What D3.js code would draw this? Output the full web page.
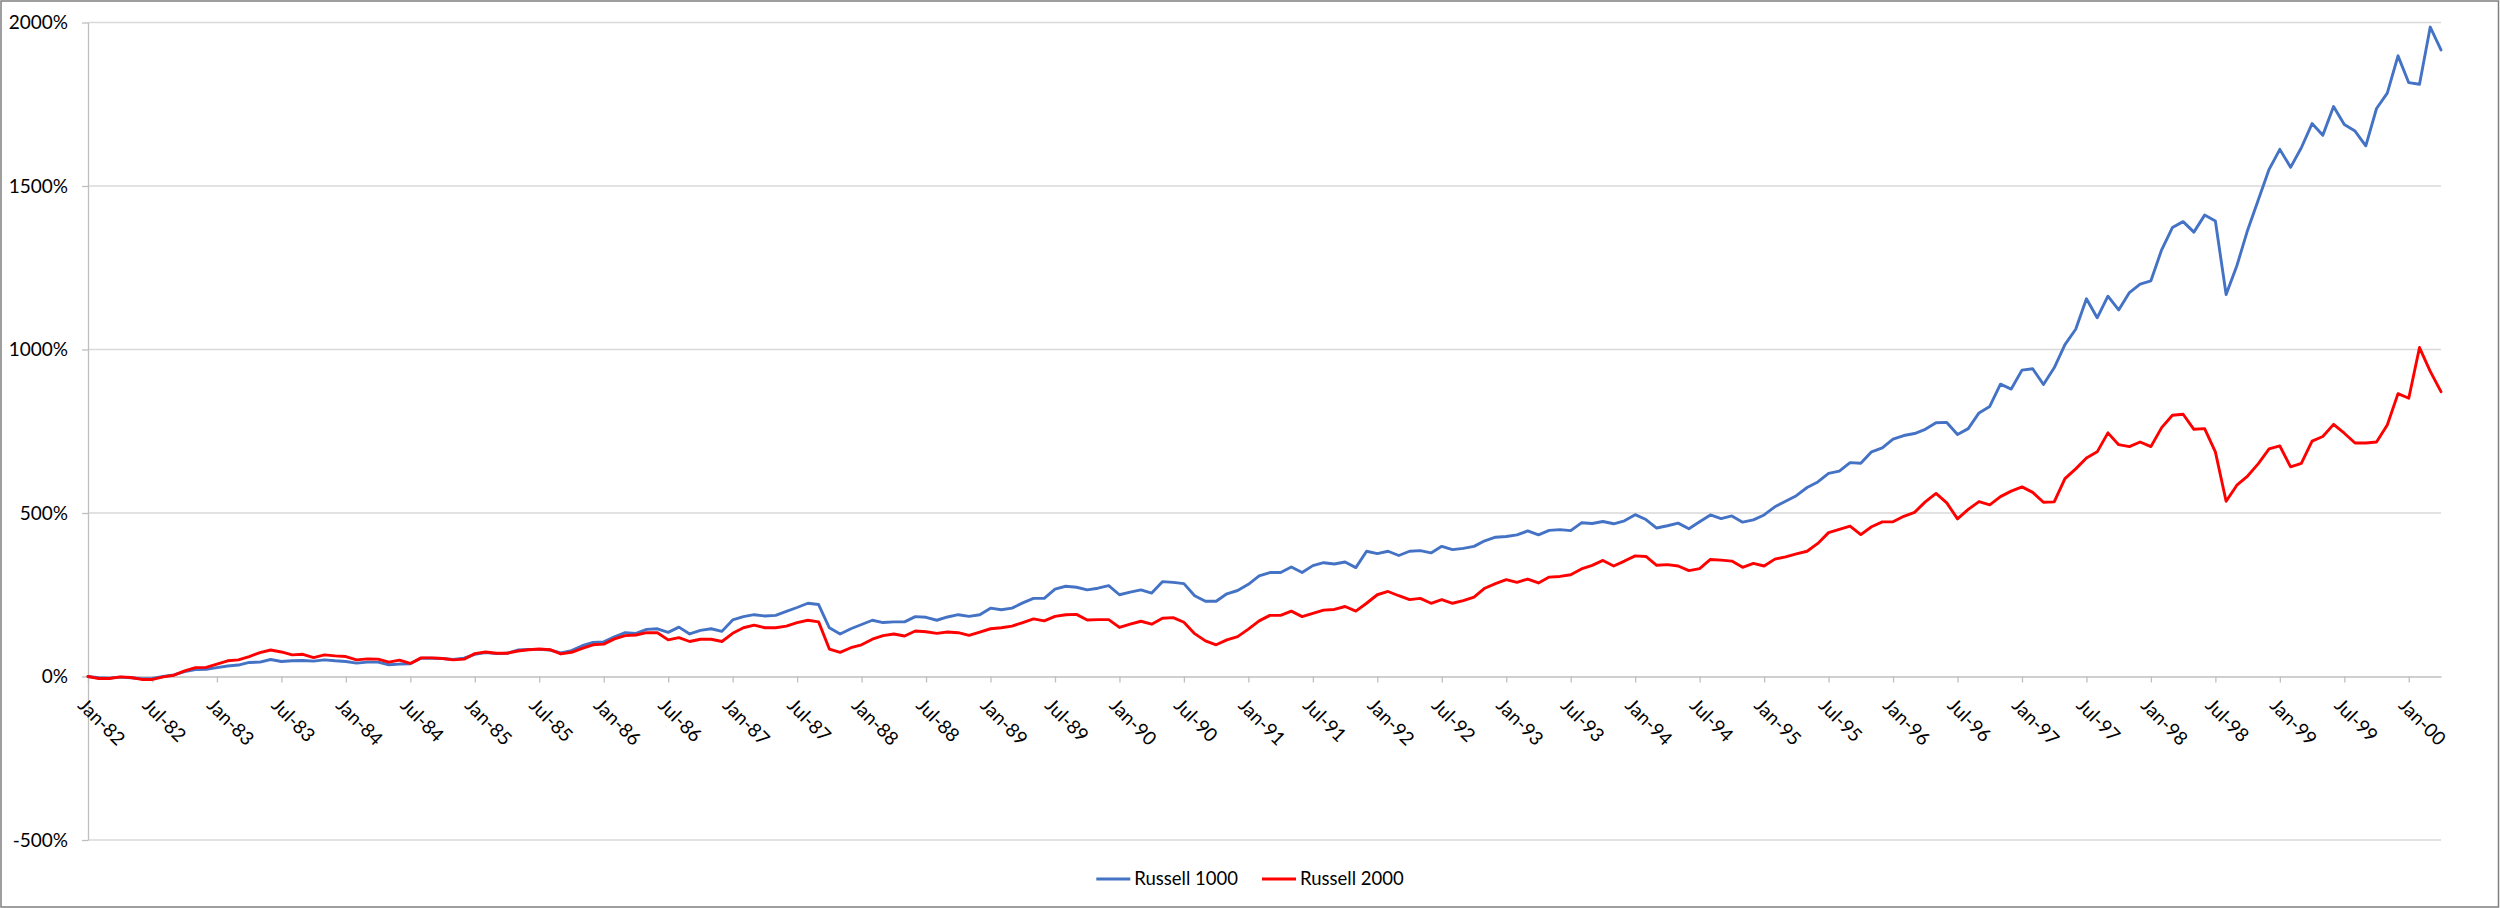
<!DOCTYPE html>
<html><head><meta charset="utf-8">
<script src="https://cdn.jsdelivr.net/npm/d3@7"></script>
<style>
body{margin:0;background:#fff;}
svg{display:block;font-family:Lato,"Open Sans",sans-serif;}
</style>
</head><body>
<svg id="chart" width="2500" height="908"></svg>
<script>
// ---- DATA ----
const firstMonth = new Date(1982, 0, 1);
const lastMonth = new Date(2000, 3, 1);
const months = d3.timeMonth.range(firstMonth, d3.timeMonth.offset(lastMonth, 1)); // categories Jan-82 .. Apr-00

const russell1000 = [
  0, -4, -5, -2, -4, -7, -6, 0, 5, 15, 21, 22,
  27, 32, 35, 43, 44, 52, 46, 48, 49, 47, 51, 48,
  46, 41, 44, 44, 36, 38, 39, 56, 56, 55, 52, 56,
  68, 73, 70, 71, 81, 83, 83, 81, 72, 79, 94, 104,
  106, 121, 134, 132, 144, 146, 135, 151, 130, 141, 146, 138,
  173, 183, 189, 185, 187, 199, 211, 224, 220, 149, 130, 146,
  159, 172, 165, 167, 167, 183, 181, 172, 182, 189, 184, 189,
  209, 204, 209, 225, 239, 239, 267, 276, 273, 265, 270, 278,
  250, 258, 265, 255, 290, 288, 284, 247, 230, 230, 253, 263,
  282, 308, 318, 318, 335, 318, 339, 348, 344, 350, 333, 383,
  376, 383, 370, 383, 385, 378, 398, 388, 392, 398, 415, 426,
  428, 433, 445, 433, 447, 449, 446, 470, 468, 474, 467, 476,
  495, 480, 454, 461, 469, 452, 473, 494, 483, 491, 472, 479,
  494, 519, 536, 553, 578, 595, 621, 628, 654, 652, 687, 699,
  726, 737, 743, 756, 776, 777, 740, 758, 806, 826, 894, 879,
  937, 941, 893, 944, 1015, 1062, 1155, 1097, 1163, 1121, 1174, 1200,
  1210, 1305, 1373, 1391, 1359, 1411, 1393, 1168, 1256, 1365, 1458, 1551,
  1612, 1557, 1617, 1691, 1655, 1743, 1688, 1668, 1623, 1737, 1784, 1898,
  1816, 1811, 1986, 1916
];

const russell2000 = [
  0, -6, -6, -1, -3, -9, -9, -1, 4, 17, 27, 28,
  38, 48, 51, 61, 73, 81, 75, 66, 68, 58, 66, 63,
  61, 51, 54, 53, 44, 50, 40, 57, 57, 55, 51, 53,
  70, 75, 71, 71, 78, 82, 84, 82, 69, 74, 86, 97,
  99, 115, 125, 127, 134, 134, 112, 119, 107, 114, 114, 107,
  132, 149, 157, 149, 149, 154, 165, 172, 167, 84, 74, 88,
  97, 114, 125, 130, 124, 139, 137, 132, 136, 134, 126, 136,
  146, 149, 154, 165, 176, 170, 184, 189, 190, 173, 174, 174,
  150, 160, 169, 160, 178, 180, 166, 131, 109, 97, 112, 122,
  145, 170, 187, 187, 200, 183, 193, 203, 205, 214, 200, 224,
  250, 260, 247, 235, 239, 224, 235, 224, 232, 243, 270, 284,
  296, 288, 298, 286, 304, 306, 311, 329, 340, 355, 338, 353,
  369, 367, 340, 342, 338, 324, 330, 358, 356, 353, 334, 346,
  338, 359, 366, 375, 383, 407, 440, 450, 460, 434, 458, 473,
  473, 490, 502, 534, 560, 531, 482, 511, 535, 525, 550, 567,
  580, 563, 533, 534, 605, 635, 668, 687, 745, 709, 703, 717,
  703, 761, 799, 802, 756, 758, 687, 536, 585, 613, 651, 696,
  705, 641, 652, 720, 734, 771, 744, 714, 714, 717, 769, 865,
  851, 1006, 933, 871
];

const seriesNames = ["Russell 1000", "Russell 2000"];
const seriesColors = ["#4472C4", "#FF0000"];
const yTickValues = [-500, 0, 500, 1000, 1500, 2000];
const xTickStep = 6; // Jan / Jul labels

// ---- LAYOUT ----
const W = 2500, H = 908;
const plot = {left: 88, right: 2441, top: 22.5, bottom: 840};
const fmt = d3.timeFormat("%b-%y");

const svg = d3.select("#chart");
svg.append("rect").attr("width", W).attr("height", H).attr("fill", "#fff");
svg.append("rect").attr("x", 1).attr("y", 1).attr("width", W - 2.5).attr("height", H - 2)
  .attr("fill", "none").attr("stroke", "#7f7f7f").attr("stroke-width", 1.5);

const x = d3.scalePoint().domain(d3.range(months.length)).range([plot.left, plot.right]).padding(0);
const y = d3.scaleLinear().domain([-500, 2000]).range([plot.bottom, plot.top]);

// gridlines
svg.append("g").selectAll("line").data(yTickValues.filter(v => v !== 0)).join("line")
  .attr("x1", plot.left).attr("x2", plot.right)
  .attr("y1", d => y(d)).attr("y2", d => y(d))
  .attr("stroke", "#d9d9d9").attr("stroke-width", 1.3);

// y axis
const yAxis = svg.append("g").attr("transform", `translate(${plot.left},0)`)
  .call(d3.axisLeft(y).tickValues(yTickValues).tickFormat(d => d + "%").tickSize(6).tickSizeOuter(0).tickPadding(14));
yAxis.select(".domain").attr("stroke", "#bfbfbf").attr("stroke-width", 1.3);
yAxis.selectAll(".tick line").attr("stroke", "#bfbfbf").attr("stroke-width", 1.3);
yAxis.selectAll("text").attr("font-size", 19).attr("fill", "#000").style("font-family", "Lato, sans-serif");

// x axis at 0%
const xTicks = d3.range(0, months.length, xTickStep);
const xAxis = svg.append("g").attr("transform", `translate(0,${y(0)})`)
  .call(d3.axisBottom(x).tickValues(xTicks).tickFormat(i => fmt(months[i])).tickSize(6).tickSizeOuter(0));
xAxis.select(".domain").attr("stroke", "#bfbfbf").attr("stroke-width", 1.3);
xAxis.selectAll(".tick line").attr("stroke", "#bfbfbf").attr("stroke-width", 1.3);
xAxis.selectAll("text")
  .attr("font-size", 19).attr("fill", "#000").style("font-family", "Lato, sans-serif")
  .attr("text-anchor", "start").attr("dy", 0)
  .attr("x", 13).attr("y", 29.5)
  .attr("transform", "rotate(45)");

// lines
const seriesData = [russell1000, russell2000];
const line = d3.line().x((d, i) => x(i)).y(d => y(d));
svg.append("g").selectAll("path").data(seriesData).join("path")
  .attr("d", d => line(d))
  .attr("fill", "none")
  .attr("stroke", (d, i) => seriesColors[i])
  .attr("stroke-width", 2.9)
  .attr("stroke-linejoin", "round")
  .attr("stroke-linecap", "round");

// legend
const legend = svg.append("g");
const items = legend.selectAll("g").data(seriesNames).join("g");
items.append("line").attr("x1", 0).attr("x2", 34).attr("y1", 0).attr("y2", 0)
  .attr("stroke", (d, i) => seriesColors[i]).attr("stroke-width", 2.9);
items.append("text").attr("x", 38).attr("y", 0).attr("dy", "0.35em")
  .attr("font-size", 18.5).attr("fill", "#000").text(d => d);
let offs = 0;
const positions = [];
items.each(function () {
  const tw = this.querySelector("text").getComputedTextLength();
  positions.push(offs);
  offs += 38 + tw + 24;
});
const total = offs - 24;
const startX = W / 2 - total / 2;
items.attr("transform", (d, i) => `translate(${startX + positions[i]},879)`);
</script>
</body></html>
